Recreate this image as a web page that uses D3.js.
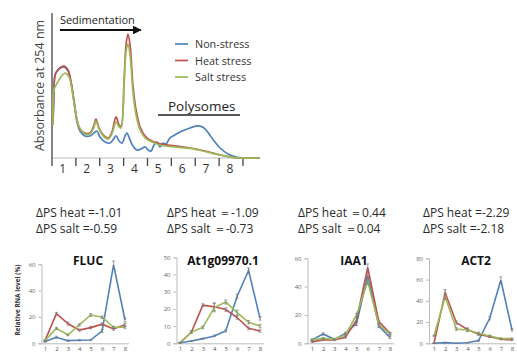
<!DOCTYPE html>
<html>
<head>
<meta charset="utf-8">
<script src="https://cdn.jsdelivr.net/npm/d3@7"></script>
<style>
  body { margin: 0; background: #fff; }
  svg { display: block; }
  text { font-family: "Open Sans", sans-serif; }
</style>
</head>
<body>
<svg id="chart" width="517" height="354"></svg>
<script>
const seriesNames = ['Non-stress', 'Heat stress', 'Salt stress'];
const seriesColors = ['#4f81bd', '#c0504d', '#9bbb59'];
const fractions = [1, 2, 3, 4, 5, 6, 7, 8];

// gradient profiles: [position along gradient (fraction units), absorbance]
const profileNon = [[0.04, 22.8], [0.08, 43.4], [0.13, 57.2], [0.25, 60.7], [0.5, 62.8], [0.67, 60], [0.8, 51.7],
  [0.92, 38.6], [1.05, 24.8], [1.17, 18.6], [1.38, 15.2], [1.59, 15.2], [1.76, 17.2], [1.88, 18.6], [2.01, 14.5],
  [2.22, 11], [2.43, 10.3], [2.55, 12.4], [2.68, 15.2], [2.81, 11.7], [2.93, 10.3], [3.06, 15.2], [3.14, 17.2],
  [3.27, 12.4], [3.39, 8.3], [3.56, 5.5], [3.73, 6.2], [3.9, 7.6], [4.02, 5.5], [4.15, 4.8], [4.27, 9], [4.4, 11],
  [4.52, 7.6], [4.65, 10.3], [4.77, 9.7], [4.94, 13.8], [5.15, 15.9], [5.45, 18.6], [5.78, 20.7], [6.12, 22.1],
  [6.37, 20.7], [6.58, 16.6], [6.79, 11.7], [7.04, 6.9], [7.37, 2.8], [7.71, 0.7], [8.0, 0], [8.71, 0]];
const profileHeat = [[0.04, 22.8], [0.08, 43.4], [0.13, 57.2], [0.25, 60.7], [0.5, 63.4], [0.67, 60.7], [0.8, 52.4],
  [0.92, 40], [1.05, 26.2], [1.17, 20], [1.38, 17.2], [1.59, 17.2], [1.76, 22.8], [1.84, 26.9], [1.97, 20.7],
  [2.14, 15.9], [2.35, 13.8], [2.51, 17.9], [2.68, 28.3], [2.81, 22.8], [2.89, 22.1], [3.02, 53.8], [3.1, 77.9],
  [3.18, 85.5], [3.27, 77.9], [3.39, 50.3], [3.52, 33.1], [3.69, 21.4], [3.9, 15.2], [4.1, 12.4], [4.52, 9.7],
  [5.15, 8.3], [5.78, 6.9], [6.41, 4.8], [7.04, 2.1], [7.66, 0.3], [8.71, 0]];
const profileSalt = [[0.04, 22.8], [0.08, 46.9], [0.17, 50.3], [0.29, 53.8], [0.54, 58.6], [0.71, 55.9], [0.84, 46.9],
  [0.96, 34.5], [1.09, 23.4], [1.21, 19.3], [1.38, 16.6], [1.59, 16.6], [1.76, 21.4], [1.84, 25.5], [1.97, 20],
  [2.14, 15.2], [2.35, 13.1], [2.51, 16.6], [2.68, 24.8], [2.81, 21.4], [2.89, 20.7], [3.02, 50.3], [3.1, 73.1],
  [3.18, 78.6], [3.27, 71], [3.39, 45.5], [3.52, 29.7], [3.69, 19.3], [3.9, 13.8], [4.1, 11.7], [4.52, 9],
  [5.15, 7.6], [5.78, 6.6], [6.41, 4.5], [7.04, 2.1], [7.66, 0.3], [8.71, 0]];

const genes = ['FLUC', 'At1g09970.1', 'IAA1', 'ACT2'];
const deltaHeat = ['=-1.01', '\uFF1D-1.09', '\uFF1D0.44', '=-2.29'];
const deltaSalt = ['=-0.59', '\uFF1D-0.73', '\uFF1D0.04', '=-2.18'];
const yMaxes = [60, 50, 60, 80];
const yTicks = [[0, 20, 40, 60], [0, 10, 20, 30, 40, 50], [0, 20, 40, 60], [0, 20, 40, 60, 80]];

// relative RNA level (%) per fraction: non-stress, heat, salt
const flucNon = [1.3, 4.6, 2, 2.3, 2.5, 9.4, 59.5, 17.7];
const flucHeat = [2, 22.5, 15, 10, 11.9, 14.5, 10.9, 14];
const flucSalt = [2, 11.4, 6.3, 14, 21.5, 19.8, 12.2, 12.2];
const at1gNon = [0.3, 1.3, 2.7, 4.3, 7.2, 27.4, 42.3, 14.5];
const at1gHeat = [0.3, 6.5, 22.2, 21.2, 19.6, 15, 8.7, 7.2];
const at1gSalt = [0.3, 6.5, 9.3, 20.8, 24, 17.8, 12.2, 10];
const iaa1Non = [2.4, 6.6, 2.8, 7, 14, 48, 12.2, 4.2];
const iaa1Heat = [1, 2.4, 2.4, 4.2, 16.5, 53.5, 15.3, 7];
const iaa1Salt = [2.4, 3.5, 2.8, 5.9, 20, 43.6, 13, 6.6];
const act2Non = [0, 0.6, 0, 0.5, 2.5, 23.5, 59.5, 12.5];
const act2Heat = [0, 47.6, 19.5, 13, 8.5, 6.3, 3.8, 3.1];
const act2Salt = [6.9, 43.8, 13.4, 12.5, 9.4, 6.9, 4.4, 4.4];
// standard errors (non-stress, heat, salt)
const flucErr = [[0.5, 0.8, 0.5, 0.5, 0.5, 1.2, 3, 1.5], [0.5, 1, 1.2, 0.8, 1, 1, 1, 1.2], [0.5, 0.8, 0.6, 0.8, 1, 1, 0.8, 0.8]];
const at1gErr = [[0.2, 0.3, 0.3, 0.5, 0.6, 1.2, 1.5, 1], [0.2, 0.6, 0.8, 2.2, 1, 1, 0.8, 0.7], [0.2, 0.6, 0.8, 2.5, 1.2, 1.5, 1, 1]];
const iaa1Err = [[0.5, 0.8, 0.5, 0.8, 1.5, 2, 1, 0.8], [0.3, 0.5, 0.5, 0.5, 1.2, 2.5, 1, 0.8], [0.5, 0.5, 0.5, 0.8, 1.2, 2, 1, 0.8]];
const act2Err = [[0.2, 0.3, 0.2, 0.3, 0.5, 1.5, 3, 1], [0.2, 3, 1.5, 1.5, 1, 0.8, 0.6, 0.6], [0.6, 2.5, 1.2, 1.5, 1, 0.8, 0.6, 0.6]];

const geneSeries = [
  [flucNon, flucHeat, flucSalt],
  [at1gNon, at1gHeat, at1gSalt],
  [iaa1Non, iaa1Heat, iaa1Salt],
  [act2Non, act2Heat, act2Salt],
];
const geneErrors = [flucErr, at1gErr, iaa1Err, act2Err];

const svg = d3.select('#chart');

// ---------- polysome profile ----------
const px = d3.scaleLinear().domain([0, 8]).range([52, 243]);
const py = d3.scaleLinear().domain([0, 100]).range([158, 13]);

const profile = svg.append('g').attr('class', 'profile');

profile.append('line')
  .attr('x1', px(0)).attr('x2', px(8.71))
  .attr('y1', py(0)).attr('y2', py(0))
  .attr('stroke', '#bbb').attr('stroke-width', 1);

profile.append('line')
  .attr('x1', px(0)).attr('x2', px(0))
  .attr('y1', py(100)).attr('y2', py(0) + 8)
  .attr('stroke', '#444').attr('stroke-width', 1.3);

profile.selectAll('.frac-tick')
  .data(d3.range(1, 9))
  .enter()
  .append('line')
  .attr('class', 'frac-tick')
  .attr('x1', (d) => px(d)).attr('x2', (d) => px(d))
  .attr('y1', py(0)).attr('y2', py(0) + 8)
  .attr('stroke', '#444').attr('stroke-width', 1.3);

profile.selectAll('.frac-label')
  .data(fractions)
  .enter()
  .append('text')
  .attr('class', 'frac-label')
  .attr('x', (d) => px(d - 0.55))
  .attr('y', py(0) + 15)
  .attr('text-anchor', 'middle')
  .style('font-size', '12px')
  .style('fill', '#333')
  .text((d) => d);

profile.append('text')
  .attr('transform', `translate(44, ${py(50)}) rotate(-90)`)
  .attr('text-anchor', 'middle')
  .style('font-size', '12.5px')
  .style('fill', '#444')
  .text('Absorbance at 254 nm');

const profileLine = d3.line()
  .x((d) => px(d[0]))
  .y((d) => py(d[1]))
  .curve(d3.curveCatmullRom.alpha(0.5));

[profileNon, profileHeat, profileSalt].forEach((p, i) => {
  profile.append('path')
    .datum(p)
    .attr('d', profileLine)
    .attr('fill', 'none')
    .attr('stroke', seriesColors[i])
    .attr('stroke-width', 1.7);
});

// sedimentation arrow
svg.append('defs').append('marker')
  .attr('id', 'arrowhead')
  .attr('viewBox', '0 0 10 10')
  .attr('refX', 9).attr('refY', 5)
  .attr('markerWidth', 4).attr('markerHeight', 4)
  .attr('orient', 'auto')
  .append('path')
  .attr('d', 'M0,0 L10,5 L0,10 Z')
  .attr('fill', '#111');

profile.append('line')
  .attr('x1', px(0.33)).attr('x2', px(3.72))
  .attr('y1', 30).attr('y2', 30)
  .attr('stroke', '#111').attr('stroke-width', 2.2)
  .attr('marker-end', 'url(#arrowhead)');

profile.append('text')
  .attr('x', px(0.33))
  .attr('y', 24)
  .style('font-size', '11px')
  .style('fill', '#222')
  .text('Sedimentation');

// polysome annotation
profile.append('text')
  .attr('x', 168)
  .attr('y', 111)
  .style('font-size', '13.5px')
  .style('fill', '#222')
  .text('Polysomes');

profile.append('line')
  .attr('x1', 158).attr('x2', 240)
  .attr('y1', 115).attr('y2', 115)
  .attr('stroke', '#222').attr('stroke-width', 1.6);

// legend
const legend = profile.selectAll('.legend')
  .data(seriesNames)
  .enter()
  .append('g')
  .attr('class', 'legend')
  .attr('transform', (_, i) => `translate(175, ${44 + i * 16.5})`);

legend.append('line')
  .attr('x1', 0).attr('x2', 13)
  .attr('stroke', (_, i) => seriesColors[i])
  .attr('stroke-width', 1.7);

legend.append('text')
  .attr('x', 20)
  .attr('y', 4)
  .style('font-size', '10.8px')
  .style('fill', '#333')
  .text((d) => d);

// ---------- delta PS labels ----------
const deltaLeft = [36, 167, 298, 423];
genes.forEach((g, i) => {
  svg.append('text')
    .attr('x', deltaLeft[i]).attr('y', 217)
    .style('font-size', '12px').style('fill', '#2a2a2a')
    .text(`\u0394PS heat ${deltaHeat[i]}`);
  svg.append('text')
    .attr('x', deltaLeft[i]).attr('y', 233)
    .style('font-size', '12px').style('fill', '#2a2a2a')
    .text(`\u0394PS salt ${deltaSalt[i]}`);
});

// ---------- small line charts ----------
const panels = [
  { axisX: 41.5, x1: 45, x8: 125, top: 264.3 },
  { axisX: 176.5, x1: 180, x8: 260, top: 257.3 },
  { axisX: 307.5, x1: 312, x8: 390, top: 258.3 },
  { axisX: 429, x1: 434, x8: 512, top: 258.3 },
];
const bottomY = 343.3;

genes.forEach((gene, gi) => {
  const p = panels[gi];
  const x = d3.scalePoint().domain(fractions).range([p.x1, p.x8]);
  const y = d3.scaleLinear().domain([0, yMaxes[gi]]).range([bottomY, p.top]);
  const g = svg.append('g').attr('class', 'panel');

  const yAxis = g.append('g')
    .attr('transform', `translate(${p.axisX}, 0)`)
    .call(d3.axisLeft(y).tickValues(yTicks[gi]).tickSize(3).tickPadding(3));
  yAxis.select('.domain').attr('stroke', '#bbb');
  yAxis.selectAll('.tick line').attr('stroke', '#bbb');
  yAxis.selectAll('.tick text')
    .style('font-size', '6px')
    .style('font-family', '"Open Sans", sans-serif')
    .style('fill', '#666');

  const xAxis = g.append('g')
    .attr('transform', `translate(0, ${bottomY})`)
    .call(d3.axisBottom(x).tickSize(0).tickPadding(3.5));
  xAxis.select('.domain')
    .attr('d', `M${p.axisX},0.5H${p.x8 + 4}`)
    .attr('stroke', '#bbb');
  xAxis.selectAll('.tick text')
    .style('font-size', '6px')
    .style('font-family', '"Open Sans", sans-serif')
    .style('fill', '#555');

  g.append('text')
    .attr('x', (p.x1 + p.x8) / 2 + 3)
    .attr('y', 265)
    .attr('text-anchor', 'middle')
    .style('font-size', '12px')
    .style('font-weight', 'bold')
    .style('fill', '#111')
    .text(gene);

  const line = d3.line()
    .x((_, i) => x(fractions[i]))
    .y((d) => y(d));

  geneSeries[gi].forEach((vals, si) => {
    const errs = geneErrors[gi][si];
    g.append('path')
      .datum(vals)
      .attr('d', line)
      .attr('fill', 'none')
      .attr('stroke', seriesColors[si])
      .attr('stroke-width', 1.6);

    const eb = g.selectAll(null)
      .data(vals.map((v, i) => ({ f: fractions[i], v, e: errs[i] })))
      .enter()
      .append('g')
      .attr('stroke', '#777')
      .attr('stroke-width', 0.7);
    eb.append('line')
      .attr('x1', (d) => x(d.f)).attr('x2', (d) => x(d.f))
      .attr('y1', (d) => y(d.v - d.e)).attr('y2', (d) => y(d.v + d.e));
    eb.append('line')
      .attr('x1', (d) => x(d.f) - 1.5).attr('x2', (d) => x(d.f) + 1.5)
      .attr('y1', (d) => y(d.v + d.e)).attr('y2', (d) => y(d.v + d.e));
    eb.append('line')
      .attr('x1', (d) => x(d.f) - 1.5).attr('x2', (d) => x(d.f) + 1.5)
      .attr('y1', (d) => y(d.v - d.e)).attr('y2', (d) => y(d.v - d.e));
  });
});

svg.append('text')
  .attr('transform', `translate(20, 300) rotate(-90)`)
  .attr('text-anchor', 'middle')
  .style('font-size', '6.5px')
  .style('font-weight', 'bold')
  .style('fill', '#333')
  .text('Relative RNA level (%)');
</script>
</body>
</html>
